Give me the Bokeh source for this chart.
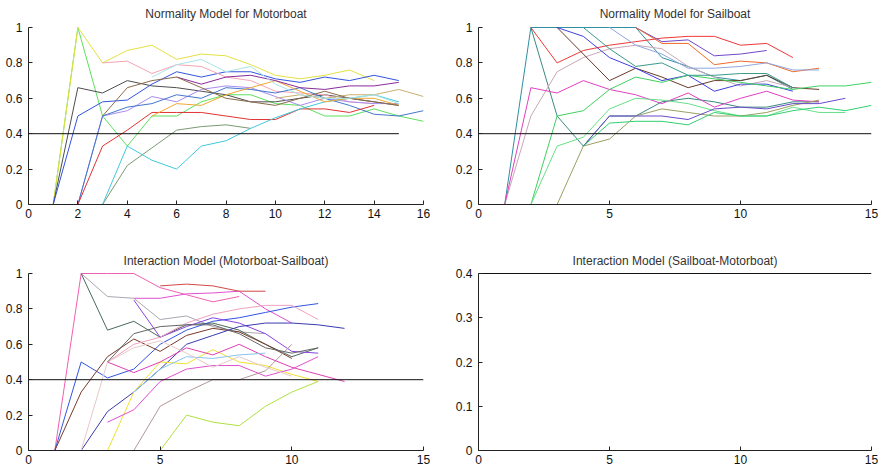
from bokeh.plotting import figure
from bokeh.layouts import column, row
from bokeh.models import Range1d, FixedTicker, Label
from bokeh.embed import file_html
from bokeh.resources import INLINE

# ---------------- data ----------------
# threshold line
thr_x = [0, 15]
thr_y = [0.4, 0.4]

# Panel 1: Normality Model for Motorboat  (start x, values)
mb1_start, mb1 = 1, [0, 1.0, 0.5, 0.33, 0.50, 0.50, 0.58, 0.62, 0.62, 0.57, 0.56, 0.50, 0.50, 0.54, 0.50, 0.47]
mb2_start, mb2 = 1, [0, 1.0, 0.80, 0.87, 0.90, 0.82, 0.85, 0.84, 0.79, 0.73, 0.71, 0.73, 0.76, 0.70]
mb3_start, mb3 = 1, [0, 0.66, 0.63, 0.70, 0.67, 0.66, 0.64, 0.62, 0.58, 0.58, 0.60, 0.62, 0.60, 0.58, 0.56]
mb4_start, mb4 = 1, [0, 0.50, 0.58, 0.59, 0.68, 0.75, 0.72, 0.75, 0.75, 0.71, 0.69, 0.72, 0.70, 0.73, 0.70]
mb5_start, mb5 = 3, [0.80, 0.81, 0.74, 0.79, 0.78, 0.72, 0.70, 0.64, 0.63, 0.62, 0.58, 0.57]
mb6_start, mb6 = 2, [0, 0.50, 0.53, 0.61, 0.58, 0.65, 0.67, 0.66, 0.61, 0.56, 0.60, 0.58, 0.57, 0.57]
mb7_start, mb7 = 2, [0, 0.50, 0.55, 0.57, 0.62, 0.60, 0.66, 0.65, 0.63, 0.66, 0.60, 0.56, 0.51, 0.50, 0.53]
mb8_start, mb8 = 2, [0, 0.33, 0.42, 0.52, 0.52, 0.52, 0.50, 0.48, 0.48, 0.54, 0.54, 0.52, 0.56]
mb9_start, mb9 = 3, [0, 0.22, 0.32, 0.42, 0.44, 0.45, 0.43]
mb10_start, mb10 = 3, [0, 0.33, 0.25, 0.20, 0.33, 0.36, 0.43, 0.49, 0.54, 0.58, 0.60, 0.62, 0.58]
mb11_start, mb11 = 5, [0.50, 0.57, 0.56, 0.62, 0.66, 0.70, 0.64, 0.58, 0.60, 0.60, 0.56]
mb12_start, mb12 = 10, [0.60, 0.62, 0.60, 0.62, 0.62, 0.65, 0.61]
mb13_start, mb13 = 6, [0.72, 0.68, 0.72, 0.73, 0.70, 0.66, 0.65, 0.67, 0.67, 0.69]
mb14_start, mb14 = 3, [0.50, 0.66, 0.70, 0.72, 0.66, 0.60, 0.58, 0.56, 0.60, 0.64, 0.60, 0.58, 0.56]
mb15_start, mb15 = 5, [0.72, 0.79, 0.82, 0.75, 0.78, 0.68, 0.62, 0.60, 0.60, 0.62, 0.57]

# Panel 2: Normality Model for Sailboat
sb1_start, sb1 = 1, [0, 1, 1, 1, 1, 1, 0.83, 0.78, 0.72, 0.70, 0.73, 0.65]
sb2_start, sb2 = 2, [1, 0.50, 0.33, 0.50, 0.50, 0.58, 0.60, 0.58, 0.55, 0.55, 0.58, 0.58]
sb3_start, sb3 = 2, [1, 0.80, 0.87, 0.90, 0.92, 0.94, 0.95, 0.95, 0.90, 0.91, 0.83]
sb4_start, sb4 = 1, [0, 0.50, 0.75, 0.83, 0.88, 0.90, 0.88, 0.78, 0.72, 0.67, 0.70, 0.66]
sb5_start, sb5 = 1, [0, 0.66, 0.63, 0.70, 0.65, 0.62, 0.57, 0.63, 0.55, 0.60, 0.64, 0.59, 0.58]
sb6_start, sb6 = 3, [1, 0.85, 0.70, 0.77, 0.72, 0.66, 0.70, 0.70, 0.73, 0.66, 0.65]
sb7_start, sb7 = 3, [1, 0.95, 0.83, 0.77, 0.70, 0.73, 0.64, 0.68, 0.68, 0.64]
sb8_start, sb8 = 6, [1, 0.92, 0.93, 0.84, 0.85, 0.87]
sb9_start, sb9 = 6, [1, 0.91, 0.91, 0.79, 0.81, 0.80, 0.75, 0.77]
sb10_start, sb10 = 2, [0, 0.50, 0.53, 0.65, 0.72, 0.69, 0.73, 0.71, 0.69, 0.67, 0.65, 0.67, 0.67, 0.69]
sb11_start, sb11 = 2, [0, 0.33, 0.38, 0.54, 0.60, 0.59, 0.57, 0.53, 0.50, 0.50, 0.55, 0.52, 0.52]
sb12_start, sb12 = 3, [0, 0.33, 0.37, 0.50, 0.54, 0.52, 0.50, 0.50, 0.52, 0.56, 0.59]
sb13_start, sb13 = 4, [0.33, 0.50, 0.50, 0.50, 0.48, 0.54, 0.55, 0.54, 0.57, 0.57, 0.60]
sb14_start, sb14 = 4, [0.33, 0.46, 0.47, 0.47, 0.45, 0.52, 0.50, 0.50, 0.53, 0.55, 0.53, 0.56]
sb15_start, sb15 = 5, [1, 0.90, 0.85, 0.77, 0.77, 0.78, 0.80, 0.76, 0.76]
sb16_start, sb16 = 4, [1, 0.88, 0.78, 0.80, 0.73, 0.73, 0.74, 0.74, 0.66]

# Panel 3: Interaction Model (Motorboat-Sailboat)
is1_start, is1 = 1, [0, 1, 1, 1, 0.92, 0.88, 0.84, 0.87]
is2_start, is2 = 4, [0.86, 0.86, 0.885, 0.89, 0.90, 0.80, 0.72]
is3_start, is3 = 2, [1, 0.87, 0.86, 0.74, 0.76, 0.70, 0.67, 0.66]
is4_start, is4 = 2, [1, 0.68, 0.73, 0.64, 0.71, 0.72, 0.68, 0.60, 0.53, 0.58]
is5_start, is5 = 1, [0, 0.50, 0.41, 0.46, 0.60, 0.68, 0.73, 0.75, 0.78, 0.81, 0.83]
is6_start, is6 = 1, [0, 0.33, 0.53, 0.63, 0.56, 0.65, 0.69, 0.67, 0.60, 0.52]
is7_start, is7 = 5, [0.93, 0.94, 0.93, 0.90, 0.90]
is8_start, is8 = 4, [0.85, 0.64, 0.70, 0.75, 0.72, 0.66, 0.56, 0.55]
is9_start, is9 = 2, [0, 0.22, 0.33, 0.46, 0.60, 0.65, 0.70, 0.72, 0.72, 0.71, 0.69]
is10_start, is10 = 3, [0, 0.33, 0.50, 0.49, 0.57, 0.50, 0.48, 0.43, 0.39]
is11_start, is11 = 4, [0, 0, 0.20, 0.16, 0.14, 0.25, 0.33, 0.39]
is12_start, is12 = 4, [0, 0.25, 0.33, 0.40, 0.40, 0.45, 0.60]
is13_start, is13 = 3, [0.16, 0.23, 0.39, 0.46, 0.48, 0.48, 0.42, 0.46, 0.53]
is14_start, is14 = 3, [0.50, 0.44, 0.50, 0.58, 0.54, 0.60, 0.53, 0.47, 0.43, 0.39]
is15_start, is15 = 3, [0.50, 0.60, 0.64, 0.72, 0.77, 0.80, 0.82, 0.82, 0.74]
is16_start, is16 = 4, [0.33, 0.46, 0.53, 0.52, 0.54, 0.55]
is17_start, is17 = 2, [0, 0.50, 0.58, 0.62, 0.55, 0.47, 0.53, 0.47, 0.42]
is18_start, is18 = 3, [0.50, 0.66, 0.70, 0.71, 0.71, 0.66, 0.58, 0.55, 0.58]

# Panel 4: Interaction Model (Sailboat-Motorboat)
sm1_start, sm1 = 1, [0, 0, 0, 0, 0, 0, 0, 0, 0]
sm2_start, sm2 = 9, [0, 0, 0, 0, 0]

# tick definitions
mb_xticks = [0, 2, 4, 6, 8, 10, 12, 14, 16]
x15_ticks = [0, 5, 10, 15]
y1_ticks = [0, 0.2, 0.4, 0.6, 0.8, 1]
y1_labels = ["0", "0.2", "0.4", "0.6", "0.8", "1"]
y04_ticks = [0, 0.1, 0.2, 0.3, 0.4]
y04_labels = ["0", "0.1", "0.2", "0.3", "0.4"]

# ---------------- styling ----------------
FONT = "Liberation Sans"
AXIS_PX = 177  # pixel height of the 0..ymax axis span

def make_fig(title, xmax, ymax, xticks, yticks, ylabels, bl, br, bt, bb, title_off):
    frame_h = 235 - bt - bb
    p = figure(width=440, height=235, output_backend="svg", toolbar_location=None,
               x_range=Range1d(0, xmax), y_range=Range1d(0, ymax * frame_h / AXIS_PX),
               min_border_left=bl, min_border_right=br, min_border_top=bt, min_border_bottom=bb)
    p.add_layout(Label(x=xmax / 2, y=ymax, y_offset=title_off, text=title, text_align="center",
                       text_baseline="middle", text_font=FONT, text_font_size="12px",
                       text_color="#333333"))
    p.outline_line_color = None
    p.xgrid.visible = False
    p.ygrid.visible = False
    p.background_fill_color = "white"
    p.border_fill_color = "white"
    for ax in (p.xaxis[0], p.yaxis[0]):
        ax.axis_line_color = "#222222"
        ax.axis_line_width = 1
        ax.major_tick_in = 4
        ax.major_tick_out = 0
        ax.minor_tick_line_color = None
        ax.major_tick_line_color = "#222222"
        ax.major_label_text_font = FONT
        ax.major_label_text_font_size = "12px"
        ax.major_label_text_color = "#111111"
    p.xaxis[0].ticker = FixedTicker(ticks=xticks)
    p.xaxis[0].major_label_standoff = 4
    p.yaxis[0].ticker = FixedTicker(ticks=yticks)
    p.yaxis[0].bounds = (0, ymax)
    p.yaxis[0].major_label_overrides = {t: l for t, l in zip(yticks, ylabels)}
    p.yaxis[0].major_label_standoff = 6
    return p

def draw(p, start, vals, color):
    xs = list(range(start, start + len(vals)))
    p.line(xs, vals, line_color=color, line_width=1)

p1 = make_fig("Normality Model for Motorboat", 16, 1, mb_xticks, y1_ticks, y1_labels, 28, 17, 4, 31, 14)
p2 = make_fig("Normality Model for Sailboat", 15, 1, x15_ticks, y1_ticks, y1_labels, 38, 9, 4, 31, 14)
p3 = make_fig("Interaction Model (Motorboat-Sailboat)", 15, 1, x15_ticks, y1_ticks, y1_labels, 28, 17, 15, 20, 13)
p4 = make_fig("Interaction Model (Sailboat-Motorboat)", 15, 0.4, x15_ticks, y04_ticks, y04_labels, 38, 9, 15, 20, 13)

mb_series = [
    (mb1_start, mb1, "#5EE05E"), (mb2_start, mb2, "#E4E040"), (mb3_start, mb3, "#4E4E4E"),
    (mb4_start, mb4, "#3355DD"), (mb5_start, mb5, "#F4A4B4"), (mb6_start, mb6, "#A88CF0"),
    (mb7_start, mb7, "#4477CC"), (mb8_start, mb8, "#E03333"), (mb9_start, mb9, "#7A9A72"),
    (mb10_start, mb10, "#44C8DD"), (mb11_start, mb11, "#F0A830"), (mb12_start, mb12, "#C8B070"),
    (mb13_start, mb13, "#8A2A9A"), (mb14_start, mb14, "#8A6A4A"), (mb15_start, mb15, "#A8E4E8"),
]
sb_series = [
    (sb1_start, sb1, "#2E8FA0"), (sb2_start, sb2, "#3A8A80"), (sb3_start, sb3, "#F03838"),
    (sb4_start, sb4, "#C8A8B8"), (sb5_start, sb5, "#E040C0"), (sb6_start, sb6, "#6A3A2A"),
    (sb7_start, sb7, "#4040E0"), (sb8_start, sb8, "#7048C8"), (sb9_start, sb9, "#F06A2A"),
    (sb10_start, sb10, "#40D060"), (sb11_start, sb11, "#66E088"), (sb12_start, sb12, "#9AA060"),
    (sb13_start, sb13, "#6A4AC8"), (sb14_start, sb14, "#30D070"), (sb15_start, sb15, "#90A8E0"),
    (sb16_start, sb16, "#3A9A8A"),
]
is_series = [
    (is1_start, is1, "#F060B0"), (is2_start, is2, "#E050D0"), (is3_start, is3, "#A8A8B0"),
    (is4_start, is4, "#4A6A5A"), (is5_start, is5, "#3355E0"), (is6_start, is6, "#7A3A2A"),
    (is7_start, is7, "#D04848"), (is8_start, is8, "#8844E0"), (is9_start, is9, "#3A3AB0"),
    (is10_start, is10, "#F0E030"), (is11_start, is11, "#B0E040"), (is12_start, is12, "#B09898"),
    (is13_start, is13, "#E050D0"), (is14_start, is14, "#E040B0"), (is15_start, is15, "#F0A0C0"),
    (is16_start, is16, "#88C4F0"), (is17_start, is17, "#E8C8C8"), (is18_start, is18, "#666666"),
]
sm_series = [(sm1_start, sm1, "#B0B0E0"), (sm2_start, sm2, "#70C040")]

for p, series in ((p1, mb_series), (p2, sb_series), (p3, is_series), (p4, sm_series)):
    for s, v, c in series:
        draw(p, s, v, c)
    p.line(thr_x, thr_y, line_color="#111111", line_width=1)

layout = column(row(p1, p2), row(p3, p4))
open("out.html", "w").write(file_html(layout, INLINE))
